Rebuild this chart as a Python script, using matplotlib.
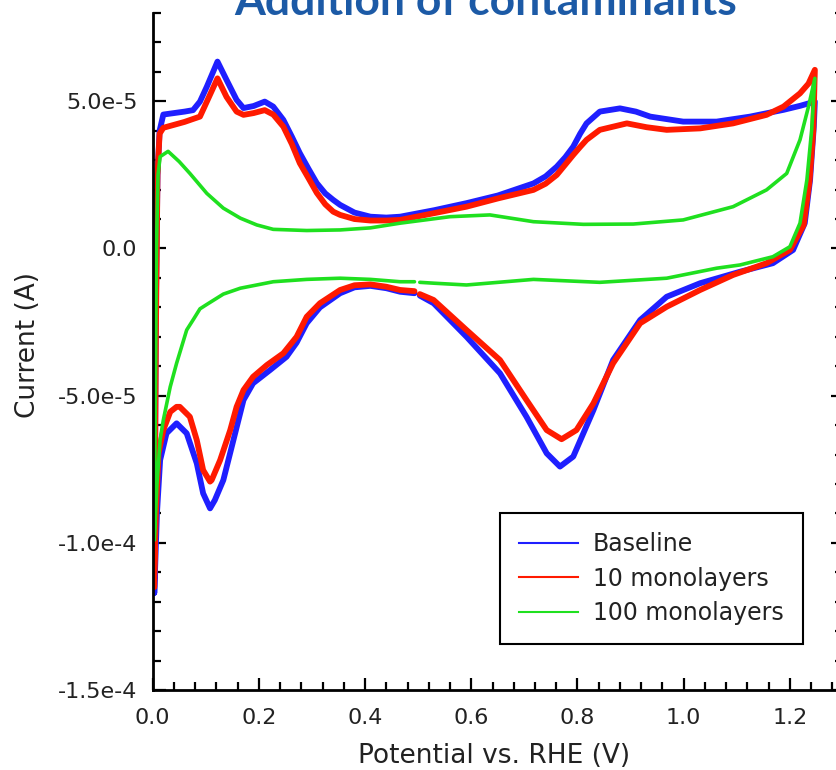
import numpy as np
import matplotlib
matplotlib.use("Agg")
import matplotlib.pyplot as plt
from matplotlib.lines import Line2D
from matplotlib.ticker import MultipleLocator, FixedLocator, FixedFormatter, FormatStrFormatter

plt.rcParams['font.family'] = ['DejaVu Sans']

# ---------------- data (potential in V, current in units of 1e-5 A) ----------------
series_names = ["Baseline", "10 monolayers", "100 monolayers"]

# Baseline (blue)
base_up_x = [0.003, 0.006, 0.009, 0.013, 0.020, 0.040, 0.060, 0.076, 0.089, 0.102, 0.122, 0.139, 0.158,
             0.171, 0.190, 0.211, 0.227, 0.246, 0.262, 0.277, 0.293, 0.309, 0.325, 0.340, 0.353, 0.380,
             0.410, 0.440, 0.466, 0.530, 0.591, 0.650, 0.717, 0.740, 0.761, 0.777, 0.792, 0.805, 0.817,
             0.842, 0.880, 0.910, 0.937, 0.999, 1.062, 1.125, 1.188, 1.220, 1.247]
base_up_y = [-11.7, -2.0, 2.5, 4.0, 4.55, 4.6, 4.65, 4.7, 4.99, 5.5, 6.35, 5.73, 5.05,
             4.77, 4.84, 4.99, 4.82, 4.37, 3.8, 3.24, 2.72, 2.22, 1.87, 1.65, 1.48, 1.22,
             1.08, 1.05, 1.08, 1.3, 1.54, 1.8, 2.21, 2.45, 2.78, 3.1, 3.46, 3.9, 4.25,
             4.65, 4.76, 4.65, 4.48, 4.31, 4.31, 4.48, 4.71, 4.85, 4.99]
base_dn_x = [1.247, 1.245, 1.238, 1.228, 1.206, 1.168, 1.106, 1.031, 0.968, 0.918, 0.867, 0.830, 0.792,
             0.767, 0.742, 0.704, 0.654, 0.591, 0.529, 0.503, 0.498, 0.493, 0.466, 0.440, 0.410, 0.380,
             0.353, 0.315, 0.290, 0.271, 0.252, 0.221, 0.189, 0.171, 0.152, 0.133, 0.117, 0.108, 0.095,
             0.083, 0.064, 0.045, 0.026, 0.014, 0.008, 0.003]
base_dn_y = [4.99, 4.14, 2.33, 0.86, -0.05, -0.5, -0.79, -1.18, -1.64, -2.43, -3.79, -5.49, -7.07,
             -7.41, -6.96, -5.72, -4.24, -3.0, -1.86, -1.6, np.nan, -1.52, -1.47, -1.35, -1.27, -1.32,
             -1.52, -2.0, -2.54, -3.2, -3.68, -4.13, -4.58, -5.15, -6.51, -7.87, -8.55, -8.83, -8.32,
             -7.3, -6.28, -5.94, -6.28, -7.19, -9.0, -11.7]

# 10 monolayers (red)
ml10_up_x = [0.003, 0.006, 0.009, 0.013, 0.020, 0.040, 0.060, 0.076, 0.089, 0.102, 0.122, 0.139, 0.158,
             0.171, 0.190, 0.211, 0.227, 0.246, 0.262, 0.277, 0.293, 0.309, 0.325, 0.340, 0.353, 0.380,
             0.410, 0.440, 0.466, 0.530, 0.591, 0.650, 0.717, 0.740, 0.761, 0.777, 0.792, 0.805, 0.817,
             0.842, 0.893, 0.930, 0.968, 1.031, 1.093, 1.156, 1.188, 1.219, 1.235, 1.247]
ml10_up_y = [-11.5, -3.0, 2.5, 3.9, 4.1, 4.2, 4.3, 4.4, 4.48, 4.99, 5.78, 5.15, 4.65,
             4.54, 4.6, 4.7, 4.55, 4.14, 3.55, 2.9, 2.4, 1.89, 1.5, 1.25, 1.14, 1.0,
             0.95, 0.95, 0.97, 1.2, 1.42, 1.7, 1.99, 2.2, 2.5, 2.85, 3.18, 3.45, 3.69,
             4.03, 4.25, 4.12, 4.03, 4.08, 4.25, 4.54, 4.82, 5.27, 5.6, 6.07]
ml10_dn_x = [1.247, 1.244, 1.237, 1.226, 1.200, 1.156, 1.093, 1.031, 0.968, 0.918, 0.867, 0.830, 0.798,
             0.770, 0.742, 0.704, 0.654, 0.591, 0.529, 0.503, 0.498, 0.493, 0.466, 0.440, 0.410, 0.380,
             0.353, 0.315, 0.290, 0.271, 0.246, 0.215, 0.189, 0.171, 0.158, 0.146, 0.127, 0.111, 0.108,
             0.095, 0.083, 0.070, 0.051, 0.045, 0.033, 0.020, 0.011, 0.006, 0.002]
ml10_dn_y = [6.07, 4.0, 2.3, 0.8, -0.05, -0.5, -0.9, -1.41, -1.98, -2.54, -3.9, -5.26, -6.17,
             -6.48, -6.17, -5.15, -3.79, -2.77, -1.75, -1.55, np.nan, -1.45, -1.41, -1.3, -1.22, -1.25,
             -1.41, -1.86, -2.32, -3.0, -3.56, -3.96, -4.36, -4.81, -5.38, -6.17, -7.19, -7.87, -7.92,
             -7.53, -6.51, -5.72, -5.38, -5.38, -5.55, -6.17, -6.96, -9.0, -11.5]

# 100 monolayers (green)
ml100_up_x = [0.003, 0.005, 0.007, 0.010, 0.014, 0.029, 0.050, 0.070, 0.102, 0.133, 0.165, 0.196, 0.227,
              0.290, 0.353, 0.410, 0.466, 0.560, 0.635, 0.717, 0.811, 0.905, 0.999, 1.093, 1.156, 1.194,
              1.219, 1.235, 1.247]
ml100_up_y = [-9.9, -5.0, 0.0, 2.5, 3.12, 3.3, 2.95, 2.55, 1.87, 1.37, 1.03, 0.80, 0.65,
              0.61, 0.63, 0.7, 0.86, 1.08, 1.14, 0.91, 0.82, 0.83, 0.97, 1.42, 1.99, 2.55,
              3.69, 4.82, 5.78]
ml100_dn_x = [1.247, 1.241, 1.232, 1.219, 1.200, 1.168, 1.106, 1.062, 0.968, 0.842, 0.717, 0.591, 0.530,
              0.503, 0.498, 0.493, 0.466, 0.410, 0.353, 0.290, 0.227, 0.165, 0.133, 0.102, 0.089, 0.077,
              0.064, 0.045, 0.033, 0.020, 0.014, 0.008, 0.003]
ml100_dn_y = [5.78, 4.03, 2.33, 0.86, 0.06, -0.28, -0.56, -0.67, -1.01, -1.15, -1.05, -1.24, -1.18,
              -1.15, np.nan, -1.13, -1.13, -1.05, -1.01, -1.05, -1.13, -1.35, -1.55, -1.9, -2.05, -2.4,
              -2.77, -3.9, -4.7, -5.83, -6.5, -8.0, -9.9]

colors = ["#1f1fff", "#ff1a00", "#1fe01f"]
widths = [4.2, 4.2, 2.6]

x_tick_major = 0.2
x_tick_minor = 0.04
y_tick_values = [-1.5e-4, -1.0e-4, -5.0e-5, 0.0, 5.0e-5]
y_tick_labels = ["-1.5e-4", "-1.0e-4", "-5.0e-5", "0.0", "5.0e-5"]

# ---------------- figure ----------------
W, H = 837, 770
fig = plt.figure(figsize=(W / 100, H / 100), dpi=100)
ax_left, ax_right, ax_bottom, ax_top = 152.7, 843.0, 690.0, 13.0
ax = fig.add_axes([ax_left / W, 1 - ax_bottom / H, (ax_right - ax_left) / W, (ax_bottom - ax_top) / H])

scale = 1e-5
data = [(base_up_x, base_up_y, base_dn_x, base_dn_y),
        (ml10_up_x, ml10_up_y, ml10_dn_x, ml10_dn_y),
        (ml100_up_x, ml100_up_y, ml100_dn_x, ml100_dn_y)]
for (ux, uy, dx, dy), c, lw in zip(data, colors, widths):
    xs = np.concatenate([ux, dx])
    ys = np.concatenate([uy, dy]) * scale
    ax.plot(xs, ys, color=c, lw=lw, solid_joinstyle='round', solid_capstyle='round')

ax.set_xlim(0, 1.3)
ax.set_ylim(-1.5e-4, 8e-5)

ax.xaxis.set_major_locator(MultipleLocator(x_tick_major))
ax.xaxis.set_minor_locator(MultipleLocator(x_tick_minor))
ax.xaxis.set_major_formatter(FormatStrFormatter('%.1f'))
ax.yaxis.set_major_locator(FixedLocator(y_tick_values))
ax.yaxis.set_major_formatter(FixedFormatter(y_tick_labels))
ax.yaxis.set_minor_locator(MultipleLocator(1e-5))

ax.tick_params(axis='both', which='both', direction='in', width=1.6, colors='black')
ax.tick_params(axis='both', which='major', length=9, labelsize=16)
ax.tick_params(axis='both', which='minor', length=6)
ax.tick_params(axis='y', which='both', left=True, right=True, pad=11)
ax.tick_params(axis='x', which='both', bottom=True, top=False, pad=13)
for lab in ax.get_xticklabels() + ax.get_yticklabels():
    lab.set_color('#222222')

ax.spines['top'].set_visible(False)
for s in ['left', 'right', 'bottom']:
    ax.spines[s].set_linewidth(2.0)

fig.text(494 / W, 1 - 756 / H, "Potential vs. RHE (V)", ha='center', va='center', fontsize=19, color='#222222')
fig.text(28 / W, 1 - 345 / H, "Current (A)", ha='center', va='center', rotation=90, fontsize=19, color='#222222')

fig.text(486 / W, 1 - 15 / H, "Addition of contaminants", ha='center', va='baseline',
         fontsize=32, fontweight='bold', color='#1c5aa6', family=['Lato', 'DejaVu Sans'])

handles = [Line2D([0], [0], color=c, lw=1.5) for c in colors]
leg = ax.legend(handles, series_names, loc='upper left',
                bbox_to_anchor=(500 / W, 1 - 513 / H), bbox_transform=fig.transFigure,
                borderaxespad=0, fontsize=17, handlelength=2.5, handletextpad=0.64,
                borderpad=0.8, labelspacing=0.45, fancybox=False, framealpha=1)
leg.get_frame().set_edgecolor('black')
leg.get_frame().set_linewidth(1.5)
for t in leg.get_texts():
    t.set_color('#222222')

fig.savefig("out.png", dpi=100)
